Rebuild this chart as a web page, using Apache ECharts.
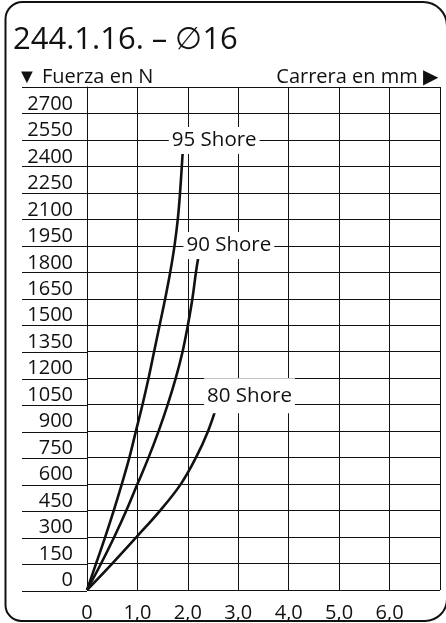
<!DOCTYPE html>
<html>
<head>
<meta charset="utf-8">
<script src="https://cdn.jsdelivr.net/npm/echarts@6/dist/echarts.min.js"></script>
<style>
  html, body { margin: 0; padding: 0; background: #fff; }
  #chart { width: 446px; height: 623px; }
</style>
</head>
<body>
<div id="chart"></div>
<script>
// Force (N) against stroke (mm) for a Ø16 element in three Shore hardness grades.
const strokeMin = 0, strokeMax = 7, strokeStep = 1;
const forceMin = 0, forceMax = 2850, forceStep = 150;
const lastForceLabel = 2700;
const lastStrokeLabel = 6;

const seriesNames = ['95 Shore', '90 Shore', '80 Shore'];

const force95  = [0, 150, 300, 450, 600, 750, 900, 1050, 1200, 1350, 1500, 1650, 1800, 1950, 2100, 2250, 2400, 2490];
const stroke95 = [0, 0.18, 0.36, 0.53, 0.69, 0.84, 0.97, 1.10, 1.22, 1.33, 1.44, 1.55, 1.65, 1.735, 1.80, 1.845, 1.88, 1.90];

const force90  = [0, 150, 300, 450, 600, 750, 900, 1050, 1200, 1350, 1500, 1650, 1800, 1890];
const stroke90 = [0, 0.28, 0.54, 0.78, 1.00, 1.22, 1.42, 1.60, 1.76, 1.895, 2.00, 2.09, 2.16, 2.21];

const force80  = [0, 150, 300, 450, 600, 750, 900, 1050];
const stroke80 = [0, 0.50, 0.98, 1.45, 1.86, 2.16, 2.40, 2.58];

const FONT = 'Open Sans';
const INK = '#111';

// Label box placement next to each curve's end point
const endLabelStyle = [
  { offset: [-14, -10], padding: [3, 3, 3, 3] },
  { offset: [-15, -11], padding: [3, 3, 3, 3] },
  { offset: [-13, -9],  padding: [3, 3, 11, 3] }
];

function curve(strokes, forces, name, idx) {
  const data = strokes.map((s, i) => [s, forces[i]]);
  const last = data.length - 1;
  data[last] = {
    value: data[last],
    label: {
      show: true,
      formatter: name,
      position: 'top',
      distance: 0,
      align: 'left',
      verticalAlign: 'middle',
      offset: endLabelStyle[idx].offset,
      padding: endLabelStyle[idx].padding,
      backgroundColor: '#fff',
      color: INK,
      fontFamily: FONT,
      fontSize: 20.5
    }
  };
  return {
    name: name,
    type: 'line',
    xAxisIndex: 0,
    yAxisIndex: 0,
    data: data,
    smooth: 0.4,
    symbol: 'circle',
    symbolSize: 0,
    showSymbol: true,
    lineStyle: { color: INK, width: 2.6 },
    itemStyle: { color: INK },
    clip: false,
    animation: false,
    z: 5
  };
}

const chart = echarts.init(document.getElementById('chart'), null, { renderer: 'canvas' });

chart.setOption({
  backgroundColor: '#fff',
  animation: false,
  textStyle: { fontFamily: FONT, color: INK },
  title: [
    {
      text: '244.1.16. – \u220516',
      left: 8, top: 20,
      textStyle: { fontFamily: FONT, fontSize: 31, fontWeight: 'normal', color: INK }
    },
    {
      text: '\u25BC Fuerza en N',
      left: 12, top: 62,
      textStyle: { fontFamily: FONT, fontSize: 20, fontWeight: 'normal', color: INK }
    },
    {
      text: 'Carrera en mm \u25B6',
      right: 3, top: 62,
      textStyle: { fontFamily: FONT, fontSize: 20, fontWeight: 'normal', color: INK }
    }
  ],
  grid: [
    { left: 87, right: 6, top: 87, bottom: 32 },
    { left: 22, width: 65, top: 87, bottom: 32 }
  ],
  xAxis: [
    {
      type: 'value', gridIndex: 0,
      min: strokeMin, max: strokeMax, interval: strokeStep,
      axisLine: { show: false },
      axisTick: { show: false },
      splitLine: { show: true, lineStyle: { color: INK, width: 1 } },
      axisLabel: {
        margin: 13,
        fontFamily: FONT, fontSize: 20, color: INK,
        formatter: v => (v > lastStrokeLabel ? '' : (v === 0 ? '0' : v.toFixed(1).replace('.', ',')))
      }
    },
    {
      type: 'value', gridIndex: 1, min: 0, max: 1,
      show: false
    }
  ],
  yAxis: [
    {
      type: 'value', gridIndex: 0,
      min: forceMin, max: forceMax, interval: forceStep,
      axisLine: { show: true, lineStyle: { color: INK, width: 1 } },
      axisTick: { show: false },
      splitLine: { show: true, lineStyle: { color: INK, width: 1 } },
      axisLabel: {
        margin: 14,
        verticalAlign: 'bottom',
        lineHeight: 19,
        fontFamily: FONT, fontSize: 20, color: INK,
        formatter: v => (v > lastForceLabel ? '' : String(v))
      }
    },
    {
      type: 'value', gridIndex: 1,
      min: forceMin, max: forceMax, interval: forceStep,
      axisLine: { show: false },
      axisTick: { show: false },
      axisLabel: { show: false },
      splitLine: { show: true, lineStyle: { color: INK, width: 1 } }
    }
  ],
  series: [
    curve(stroke95, force95, seriesNames[0], 0),
    curve(stroke90, force90, seriesNames[1], 1),
    curve(stroke80, force80, seriesNames[2], 2)
  ],
  graphic: [
    {
      type: 'rect',
      z: 100,
      silent: true,
      shape: { x: 5.5, y: 2, width: 441.5, height: 619, r: [17, 24, 22, 16] },
      style: { fill: 'none', stroke: INK, lineWidth: 2 }
    }
  ]
});
</script>
</body>
</html>
